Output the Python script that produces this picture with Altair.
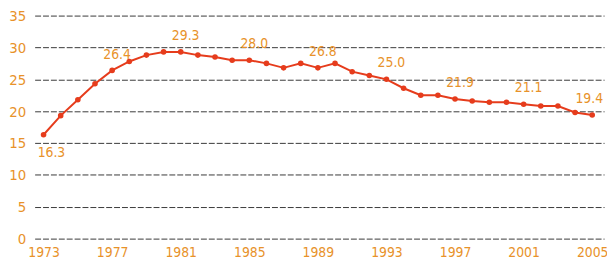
import altair as alt
import pandas as pd

years = list(range(1973, 2006))
values = [16.3, 19.3, 21.8, 24.3, 26.4, 27.8, 28.8, 29.3, 29.3, 28.8,
          28.5, 28.0, 28.0, 27.5, 26.8, 27.5, 26.8, 27.5, 26.2, 25.6,
          25.0, 23.6, 22.5, 22.5, 21.9, 21.6, 21.4, 21.4, 21.1, 20.8,
          20.8, 19.8, 19.4]
label_years_above = [1977, 1981, 1985, 1989, 1993, 1997, 2001]
label_years_end = [2005]
label_years_below = [1973]
x_ticks = [1973, 1977, 1981, 1985, 1989, 1993, 1997, 2001, 2005]
y_ticks = [0, 5, 10, 15, 20, 25, 30, 35]

df = pd.DataFrame({"year": years, "value": values})
df["label"] = df["value"].map(lambda v: f"{v:.1f}")
above = df[df["year"].isin(label_years_above)]
end = df[df["year"].isin(label_years_end)]
below = df[df["year"].isin(label_years_below)]

FONT = "DejaVu Sans Condensed, Liberation Sans Narrow, sans-serif"
LINE = "#e63c1c"
TXT = "#e8922a"

x = alt.X("year:Q", scale=alt.Scale(domain=[1972.48, 2005.69], nice=False, zero=False),
          axis=alt.Axis(values=x_ticks, format="d", grid=False, domain=False, ticks=False,
                        labelColor=TXT, labelFont=FONT, labelFontSize=14, labelPadding=7,
                        labelFlush=False, labelOverlap=False, title=None))
y = alt.Y("value:Q", scale=alt.Scale(domain=[0, 35], nice=False),
          axis=alt.Axis(values=y_ticks, grid=True, gridColor="#222222", gridWidth=0.9,
                        gridDash=[6, 2], domain=False, ticks=False, labelColor=TXT,
                        labelFont=FONT, labelFontSize=15, labelPadding=9,
                        labelOverlap=False, title=None))

base = alt.Chart(df).encode(x=x, y=y)
line = base.mark_line(color=LINE, strokeWidth=2)
pts = base.mark_circle(color=LINE, size=32, opacity=1)
lab_a = alt.Chart(above).mark_text(color=TXT, font=FONT, fontSize=14, dx=5, dy=-16,
                                    baseline="middle").encode(x=x, y=y, text="label:N")
lab_e = alt.Chart(end).mark_text(color=TXT, font=FONT, fontSize=14, dx=-3, dy=-16,
                                  baseline="middle").encode(x=x, y=y, text="label:N")
lab_b = alt.Chart(below).mark_text(color=TXT, font=FONT, fontSize=14, dx=8, dy=19,
                                    baseline="middle").encode(x=x, y=y, text="label:N")

chart = alt.layer(line, pts, lab_a, lab_e, lab_b).properties(
    width=577, height=226,
    autosize=alt.AutoSizeParams(type="none"),
    padding={"left": 27, "top": 6, "right": 3, "bottom": 22},
).configure(background="white").configure_view(stroke=None, strokeWidth=0)

chart.save("out.html", embed_options={"renderer": "svg", "actions": False})
